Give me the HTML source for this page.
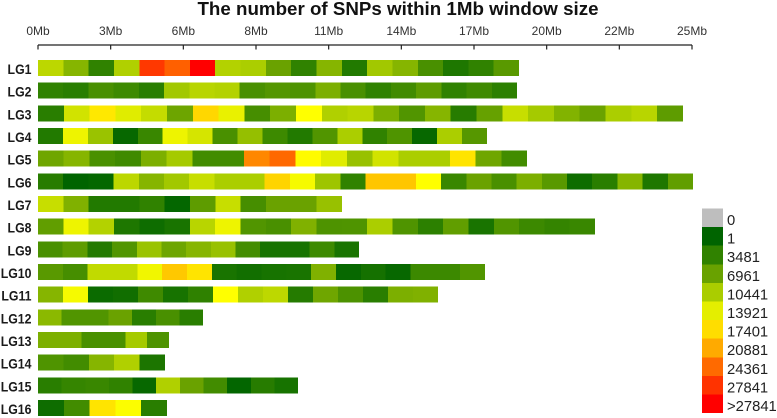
<!DOCTYPE html>
<html>
<head>
<meta charset="utf-8">
<title>The number of SNPs within 1Mb window size</title>
<style>
html,body{margin:0;padding:0;background:#fff;width:777px;height:418px;overflow:hidden}
svg{display:block}
text{font-family:"Liberation Sans",sans-serif}
</style>
</head>
<body>
<svg id="chart" width="777" height="418" viewBox="0 0 777 418" xmlns="http://www.w3.org/2000/svg">
  <text x="398" y="15" text-anchor="middle" font-size="18.75" font-weight="700" fill="#111">The number of SNPs within 1Mb window size</text>
  <g id="axis"></g>
  <g id="rows"></g>
  <g id="legend"></g>
</svg>
<script>
const tickLabels = ["0Mb","3Mb","6Mb","8Mb","11Mb","14Mb","17Mb","20Mb","22Mb","25Mb"];
const axisMaxMb = 25.9;
const categories = ["LG1","LG2","LG3","LG4","LG5","LG6","LG7","LG8","LG9","LG10","LG11","LG12","LG13","LG14","LG15","LG16"];
const lengthsMb = [19.05,18.97,25.54,17.78,19.37,25.94,12.04,22.06,12.71,17.70,15.84,6.53,5.19,5.03,10.30,5.11];

const lg1 = [11500,8500,3500,10800,27500,25000,29000,11000,10500,7000,3500,8500,2500,10000,8500,5000,2200,3500,6000];
const lg2 = [3500,3000,5000,4300,3000,10000,11300,11000,5000,5700,5300,8000,5000,3500,4500,6300,3500,4400,3200];
const lg3 = [3000,12800,16800,13700,12000,7200,17800,14200,4800,8000,15500,10800,11300,8000,5500,8500,2800,6800,12200,10200,8300,7000,10500,11300,6300];
const lg4 = [2500,14500,9600,500,4000,14500,13000,5000,9300,4300,2500,5500,10500,3500,5400,500,10500,5800];
const lg5 = [7300,8500,5000,4400,8000,10200,4600,4600,22800,24500,15700,13700,9500,12800,10500,10500,17000,7300,4600];
const lg6 = [2800,1,300,11500,8500,10000,12200,10500,10500,18000,15000,9800,3500,19000,19000,15500,4000,7000,5000,8000,6000,1000,3000,8500,2200,6500];
const lg7 = [12200,8200,2500,2500,3500,300,6300,12200,4800,7000,7000,9500];
const lg8 = [6500,14500,11000,2200,1000,1800,11300,14500,5500,5000,8200,5300,5400,10500,5400,3200,6500,1800,5500,4200,3700,4000];
const lg9 = [5000,6300,2600,5500,9600,7200,8500,9500,4700,1700,1700,4300,1800];
const lg10 = [6000,4800,11800,11800,14700,18800,17000,1800,1300,1700,1800,8200,500,1500,500,4200,4200,5500];
const lg11 = [8500,15000,800,1200,4400,1700,3400,15500,10800,11600,2700,7300,5200,3000,8000,8200];
const lg12 = [8800,5500,5500,7000,3000,5000,3000];
const lg13 = [8000,8000,5000,5000,10200,5300];
const lg14 = [5400,4600,8500,10800,2000];
const lg15 = [3000,3800,4000,3500,500,10800,7000,4600,200,2800,1700];
const lg16 = [1000,4600,17000,15300,3000];
const seriesValues = [lg1,lg2,lg3,lg4,lg5,lg6,lg7,lg8,lg9,lg10,lg11,lg12,lg13,lg14,lg15,lg16];

const legendLabels = ["0","1","3481","6961","10441","13921","17401","20881","24361","27841",">27841"];
const legendValues = [0,1,3481,6961,10441,13921,17401,20881,24361,27841,28500];
const rampValues = [1,3481,6961,10441,13921,15500,17401,20881,24361,27841,28500];
const rampColors = [[0,100,0],[48,130,0],[105,162,0],[170,205,0],[228,238,0],[255,255,0],[255,221,0],[255,170,0],[255,106,0],[255,51,0],[255,0,0]];

const NS = "http://www.w3.org/2000/svg";
const plotLeft = 38, plotRight = 692;
function xScale(mb){ return plotLeft + mb * (plotRight - plotLeft) / axisMaxMb; }
function yScale(rowIndex){ return 60 + rowIndex * 22.667; }
function colorFor(v){
  if (v <= 0) return "rgb(190,190,190)";
  if (v >= rampValues[rampValues.length-1]) return "rgb(255,0,0)";
  for (let i = 0; i < rampValues.length - 1; i++) {
    if (v <= rampValues[i+1]) {
      const t = (v - rampValues[i]) / (rampValues[i+1] - rampValues[i]);
      const a = rampColors[i], b = rampColors[i+1];
      return "rgb(" + [0,1,2].map(function(k){ return Math.round(a[k] + (b[k]-a[k])*t); }).join(",") + ")";
    }
  }
  return "rgb(255,0,0)";
}
function make(tag, attrs, parent){
  const el = document.createElementNS(NS, tag);
  Object.keys(attrs).forEach(function(k){ el.setAttribute(k, attrs[k]); });
  parent.appendChild(el);
  return el;
}

// Axis
const axisGroup = document.getElementById("axis");
const axisLine = make("line", {x1:plotLeft, x2:plotRight, y1:45, y2:45, stroke:"#222", "stroke-width":1.2}, axisGroup);


tickLabels.forEach(function(label, i){
  const mb = i * axisMaxMb / (tickLabels.length - 1);
  const x = xScale(mb);
  const tick = make("line", {x1:x, x2:x, y1:45, y2:49.5, stroke:"#222", "stroke-width":1.2}, axisGroup);
  
  
  const txt = make("text", {x:x, y:35, "text-anchor":"middle", "font-size":12, fill:"#333"}, axisGroup);
  
  
  txt.textContent = label;
});

// Rows
const rowsGroup = document.getElementById("rows");
categories.forEach(function(name, r){
  const y = yScale(r);
  const label = make("text", {transform:"translate(31.5," + (y + 14) + ") scale(0.88,1)", "text-anchor":"end", "font-size":14, "font-weight":700, fill:"#1a1a1a"}, rowsGroup);
  
  
  label.textContent = name;
  const values = seriesValues[r];
  const step = lengthsMb[r] / values.length;
  values.forEach(function(v, i){
    const x0 = xScale(i * step), x1 = xScale((i + 1) * step);
    const cell = make("rect", {x:x0, y:y, width:x1 - x0, height:16, fill:colorFor(v), "shape-rendering":"crispEdges"}, rowsGroup);
    
    
  });
});

// Legend
const legendGroup = document.getElementById("legend");
legendLabels.forEach(function(label, i){
  const y = 208.5 + i * 18.6;
  const sw = make("rect", {x:702, y:y, width:21, height:18.7, fill:colorFor(legendValues[i]), "shape-rendering":"crispEdges"}, legendGroup);
  
  
  const txt = make("text", {x:727, y:y + 16.5, "font-size":14.8, fill:"#222"}, legendGroup);
  
  
  txt.textContent = label;
});
</script>
</body>
</html>
